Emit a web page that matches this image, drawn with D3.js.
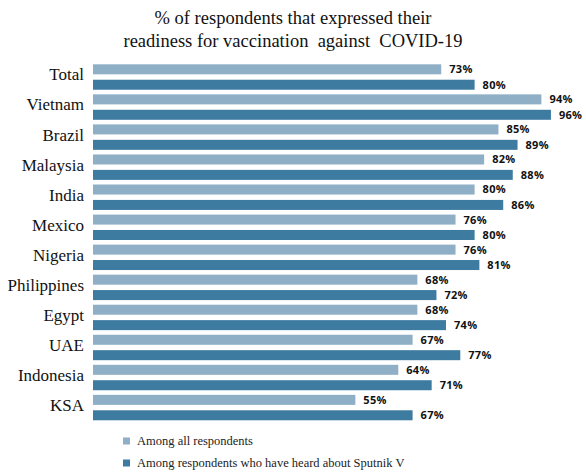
<!DOCTYPE html>
<html>
<head>
<meta charset="utf-8">
<script src="https://cdn.jsdelivr.net/npm/d3@7"></script>
<style>
  body { margin: 0; background: #fff; }
</style>
</head>
<body>
<div id="chart"></div>
<script>
var countries = ["Total", "Vietnam", "Brazil", "Malaysia", "India", "Mexico", "Nigeria",
                 "Philippines", "Egypt", "UAE", "Indonesia", "KSA"];
var allResp   = [73, 94, 85, 82, 80, 76, 76, 68, 68, 67, 64, 55];
var heardResp = [80, 96, 89, 88, 86, 80, 81, 72, 74, 77, 71, 67];
var seriesNames = ["Among all respondents", "Among respondents who have heard about Sputnik V"];
var titleLines = ["% of respondents that expressed their", "readiness for vaccination  against  COVID-19"];

var colors = ["#8eafc6", "#3e7ba0"];

var svg = d3.select("#chart").append("svg").attr("width", 586).attr("height", 473);

var x = d3.scaleLinear().domain([0, 100]).range([93, 570]);
var y = d3.scaleBand().domain(countries).range([62, 62 + 30.05 * countries.length]).padding(0);
var ys = d3.scaleBand().domain([0, 1]).range([0, y.bandwidth()]).paddingInner(0.35).paddingOuter(0.15);

// title
svg.selectAll(".title")
  .data(titleLines)
  .enter().append("text")
  .attr("class", "title")
  .attr("x", 293)
  .attr("y", function(d, i) { return 24 + i * 23; })
  .attr("text-anchor", "middle")
  .attr("font-family", "Liberation Serif, Times New Roman, serif")
  .attr("font-size", "18.5px")
  .attr("fill", "#111")
  .style("white-space", "pre")
  .text(function(d) { return d; });

var rows = countries.map(function(c, i) {
  return { name: c, vals: [allResp[i], heardResp[i]] };
});

var g = svg.selectAll(".row")
  .data(rows)
  .enter().append("g")
  .attr("class", "row")
  .attr("transform", function(d) { return "translate(0," + y(d.name) + ")"; });

g.selectAll("rect")
  .data(function(d) { return d.vals; })
  .enter().append("rect")
  .attr("x", x(0))
  .attr("y", function(d, i) { return ys(i); })
  .attr("width", function(d) { return x(d) - x(0); })
  .attr("height", ys.bandwidth())
  .attr("fill", function(d, i) { return colors[i]; });

g.selectAll(".val")
  .data(function(d) { return d.vals; })
  .enter().append("text")
  .attr("class", "val")
  .attr("x", function(d) { return x(d) + 8; })
  .attr("y", function(d, i) { return ys(i) + ys.bandwidth() / 2; })
  .attr("dy", "0.36em")
  .attr("font-family", "Open Sans, sans-serif")
  .attr("font-weight", "bold")
  .attr("font-size", "11px")
  .attr("letter-spacing", "0.3px")
  .attr("fill", "#111")
  .text(function(d) { return d + "%"; });

// category axis
var yAxis = svg.append("g")
  .attr("transform", "translate(84,0)")
  .call(d3.axisLeft(y).tickSize(0).tickPadding(0));
yAxis.select(".domain").remove();
yAxis.selectAll("text")
  .attr("font-family", "Liberation Serif, Times New Roman, serif")
  .attr("font-size", "17px")
  .attr("fill", "#111")
  .attr("dy", "0.2em");

// legend
var leg = svg.selectAll(".leg")
  .data(seriesNames)
  .enter().append("g")
  .attr("class", "leg")
  .attr("transform", function(d, i) { return "translate(123," + (441 + i * 22) + ")"; });
leg.append("rect")
  .attr("x", 0).attr("y", -3.5)
  .attr("width", 7).attr("height", 7)
  .attr("fill", function(d, i) { return colors[i]; });
leg.append("text")
  .attr("x", 14).attr("y", 0).attr("dy", "0.35em")
  .attr("font-family", "Liberation Serif, Times New Roman, serif")
  .attr("font-size", "12.5px")
  .attr("fill", "#222")
  .text(function(d) { return d; });
</script>
</body>
</html>
